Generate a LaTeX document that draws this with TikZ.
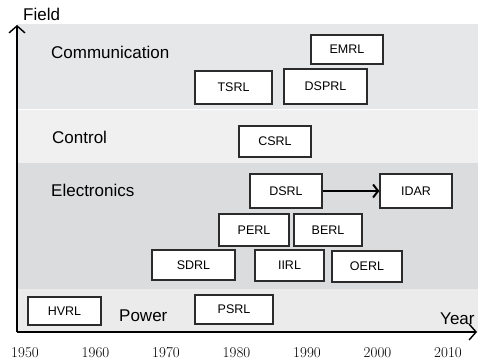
\documentclass[tikz,border=0pt]{standalone}
\usepackage{fontspec}
\newfontfamily\labfont{Liberation Sans}
\usepackage{tikz}
\usetikzlibrary{arrows.meta,positioning,calc,backgrounds}
\definecolor{Commgray}{HTML}{E6E7E8}
\definecolor{Ctrlgray}{HTML}{F0F0F0}
\definecolor{Elecgray}{HTML}{DBDCDD}
\definecolor{Powgray}{HTML}{EBEBEB}
\definecolor{Boxline}{HTML}{2B2B2B}

\begin{document}
\begin{tikzpicture}
[x=1pt,y=1pt,
    band/.style={draw=white,line width=.8pt},
    lab/.style={inner sep=0pt,anchor=west,font=\labfont\fontsize{17}{19}\selectfont},
    lab box/.style={draw=Boxline,line width=1.3pt,fill=white,inner sep=0pt,
    font=\labfont\fontsize{12.5}{14}\selectfont},
    yr/.style={inner sep=0pt,font=\fontsize{15}{17}\selectfont},
    axis/.style={line width=1.6pt,-{Straight Barb[length=7pt,width=16pt,line width=1.4pt]}},
    link/.style={line width=2.2pt,-{Straight Barb[length=5pt,width=13pt,line width=2pt]}}]

\useasboundingbox (0,0) rectangle (478,361);

%% field bands
\fill[Commgray] (17,252) rectangle (478,337);
\fill[Ctrlgray] (17,198) rectangle (478,252);
\fill[Elecgray] (17,72) rectangle (478,198);
\fill[Powgray] (17,29) rectangle (478,72);
\draw[band] (17,252) -- (478,252);

%% axes
\coordinate (origin) at (17,29);
\coordinate (ytop) at (17,336);
\coordinate (xend) at (477,29);
\draw[axis] (origin) -- (ytop);
\draw[axis] (origin) -- (xend);
\node[lab] (field) at (23,347) {Field};
\node[lab] (year) at (440,42) {Year};

%% field names
\node[lab] (comm) at (51,309) {Communication};
\node[lab] (ctrl) at (52,224) {Control};
\node[lab] (elec) at (51,171) {Electronics};
\node[lab] (pow) at (119,45) {Power};

%% labs
\node[lab box,minimum width=72,minimum height=29] (emrl) at (347,311.5) {EMRL};
\node[lab box,minimum width=77,minimum height=33] (tsrl) at (233.5,273.5) {TSRL};
\node[lab box,minimum width=83,minimum height=35] (dsprl) at (325.5,274.5) {DSPRL};
\node[lab box,minimum width=72,minimum height=31] (csrl) at (275,219.5) {CSRL};
\node[lab box,minimum width=72,minimum height=34] (dsrl) at (286,170) {DSRL};
\node[lab box,minimum width=72,minimum height=34] (idar) at (416,170) {IDAR};
\node[lab box,minimum width=70,minimum height=32] (perl) at (254,131) {PERL};
\node[lab box,minimum width=68,minimum height=32] (berl) at (328,131) {BERL};
\node[lab box,minimum width=83,minimum height=30] (sdrl) at (193.5,96) {SDRL};
\node[lab box,minimum width=69,minimum height=31] (iirl) at (289.5,95.5) {IIRL};
\node[lab box,minimum width=70,minimum height=31] (oerl) at (367,94.5) {OERL};
\node[lab box,minimum width=73,minimum height=28] (hvrl) at (64.5,50) {HVRL};
\node[lab box,minimum width=78,minimum height=29] (psrl) at (234,51.5) {PSRL};

\draw[link] (dsrl) -- (idar);

%% years
\node[yr] (y1950) at (25,8) {1950};
\node[yr] (y1960) at (95.5,8) {1960};
\node[yr] (y1970) at (166,8) {1970};
\node[yr] (y1980) at (236.5,8) {1980};
\node[yr] (y1990) at (307,8) {1990};
\node[yr] (y2000) at (377.5,8) {2000};
\node[yr] (y2010) at (448,8) {2010};

\end{tikzpicture}
\end{document}
